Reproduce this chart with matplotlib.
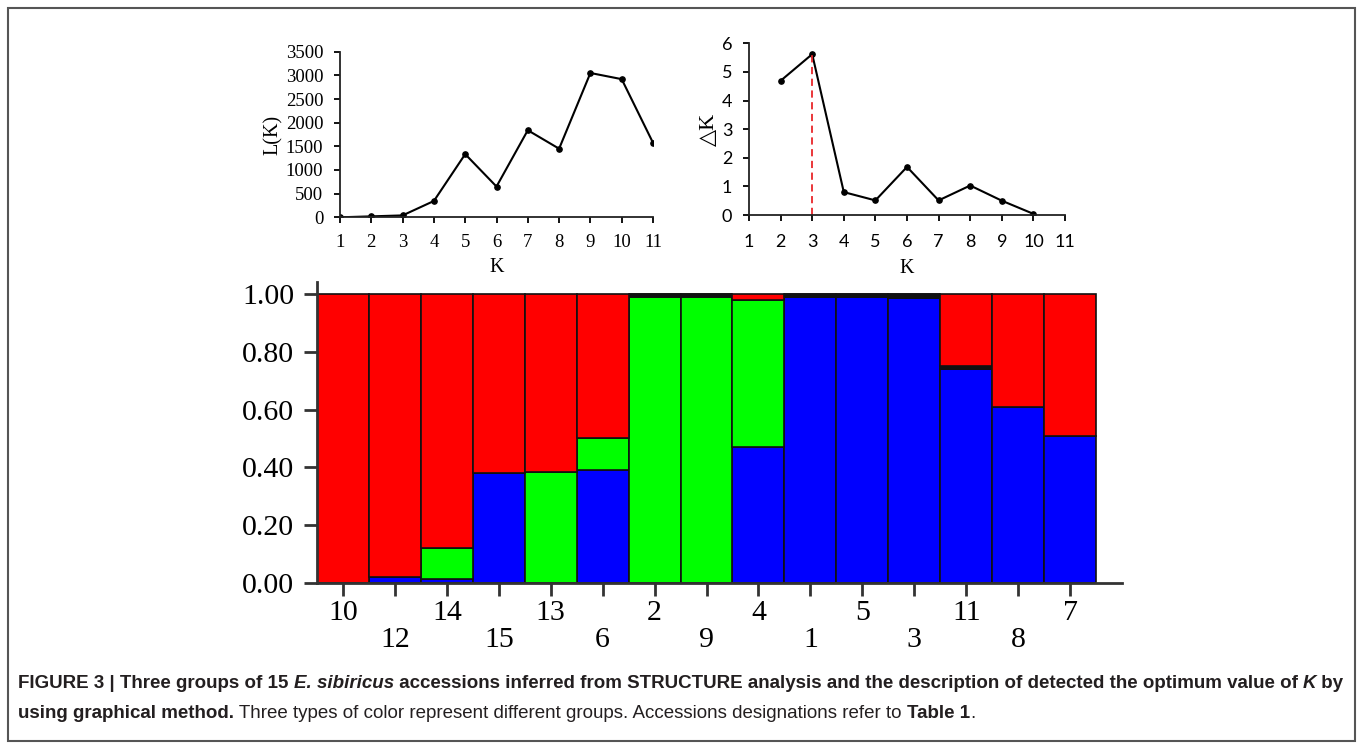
import matplotlib
matplotlib.use("Agg")
import matplotlib.pyplot as plt
import numpy as np
from matplotlib.patches import Rectangle

# 상단 그래프 데이터
k_values = [1, 2, 3, 4, 5, 6, 7, 8, 9, 10, 11]
lk_values = [0, 20, 40, 345, 1335, 650, 1840, 1450, 3050, 2920, 1575]
dk_k = [2, 3, 4, 5, 6, 7, 8, 9, 10]
dk_values = [4.69, 5.62, 0.80, 0.51, 1.68, 0.51, 1.03, 0.50, 0.04]
best_k = 3

# STRUCTURE 막대 데이터 (아래부터 blue, green, red)
accessions = ['10', '12', '14', '15', '13', '6', '2', '9', '4', '1', '5', '3', '11', '8', '7']
blue = [0, 0.02, 0.015, 0.38, 0, 0.39, 0, 0, 0.47, 0.99, 0.99, 0.985, 0.74, 0.61, 0.51]
green = [0, 0, 0.105, 0, 0.385, 0.11, 0.99, 0.99, 0.51, 0, 0, 0, 0, 0, 0]
red = [1.0, 0.98, 0.88, 0.62, 0.615, 0.50, 0, 0, 0.02, 0, 0, 0, 0.25, 0.39, 0.49]

W, H = 1357, 744
fig = plt.figure(figsize=(W / 100, H / 100), dpi=100)

def px_axes(left, top, right, bottom):
    return fig.add_axes([left / W, 1 - bottom / H, (right - left) / W, (bottom - top) / H])

serif = 'Liberation Serif'
axis_col = '#222222'

# L(K) 그래프
ax1 = px_axes(340, 51.7, 653, 217.3)
ax1.plot(k_values, lk_values, color='black', lw=1.5, marker='o', ms=3.8)
ax1.set_xlim(1, 11)
ax1.set_ylim(0, 3500)
ax1.set_xticks(k_values)
ax1.set_yticks(range(0, 3501, 500))
for s in ['top', 'right']:
    ax1.spines[s].set_visible(False)
for s in ['left', 'bottom']:
    ax1.spines[s].set_linewidth(1.3)
    ax1.spines[s].set_color(axis_col)
ax1.tick_params(direction='out', length=4, width=1.3, labelsize=13.5)
ax1.tick_params(axis='x', pad=8)
ax1.tick_params(axis='y', pad=8)
for lab in ax1.get_xticklabels() + ax1.get_yticklabels():
    lab.set_fontfamily(serif)
ax1.set_xlabel('K', fontfamily=serif, fontsize=14.5, labelpad=5)
ax1.set_ylabel('L(K)', fontfamily=serif, fontsize=14.5, labelpad=2)

# delta K 그래프
ax2 = px_axes(749, 43.3, 1065, 215)
ax2.plot(dk_k, dk_values, color='black', lw=1.5, marker='o', ms=3.8)
ax2.plot([best_k, best_k], [0, dk_values[dk_k.index(best_k)]], color='#e8262a',
         lw=1.3, ls=(0, (4, 2.5)))
ax2.set_xlim(1, 11)
ax2.set_ylim(0, 6)
ax2.set_xticks(k_values)
ax2.set_yticks(range(0, 7))
for s in ['top', 'right']:
    ax2.spines[s].set_visible(False)
for s in ['left', 'bottom']:
    ax2.spines[s].set_linewidth(1.3)
    ax2.spines[s].set_color(axis_col)
ax2.tick_params(direction='out', length=4, width=1.3, labelsize=13)
ax2.tick_params(axis='x', pad=10)
ax2.tick_params(axis='y', pad=8)
for lab in ax2.get_xticklabels() + ax2.get_yticklabels():
    lab.set_fontfamily('Lato')
ax2.set_xlabel('K', fontfamily=serif, fontsize=14.5, labelpad=6)
ax2.set_ylabel('\u25b3K', fontfamily=[serif, 'DejaVu Sans'], fontsize=16, labelpad=2)

# STRUCTURE 막대 그래프
ax3 = px_axes(317, 282.4, 1122, 583)
x = np.arange(len(accessions))
blue_a, green_a, red_a = np.array(blue), np.array(green), np.array(red)
other = np.clip(1 - blue_a - green_a - red_a, 0, None)
kw = dict(width=1.0, edgecolor='#111111', linewidth=1.2)
ax3.bar(x, blue_a, color='#0000ff', **kw)
ax3.bar(x, green_a, bottom=blue_a, color='#00ff00', **kw)
ax3.bar(x, other, bottom=blue_a + green_a, color='#111111', **kw)
ax3.bar(x, red_a, bottom=blue_a + green_a + other, color='#ff0000', **kw)
ax3.set_xlim(-0.5, 15.0)
ax3.set_ylim(0, 1.04)
ax3.set_yticks(np.arange(0, 1.01, 0.2))
ax3.set_yticklabels([f'{v:.2f}' for v in np.arange(0, 1.01, 0.2)])
ax3.set_xticks(x[::2])
ax3.set_xticklabels(accessions[::2])
ax3.set_xticks(x[1::2], minor=True)
ax3.set_xticklabels(accessions[1::2], minor=True)
for s in ['top', 'right']:
    ax3.spines[s].set_visible(False)
for s in ['left', 'bottom']:
    ax3.spines[s].set_linewidth(2)
    ax3.spines[s].set_color('#333333')
ax3.tick_params(axis='y', direction='out', length=9.5, width=2, labelsize=21.5, pad=7, color='#333333')
ax3.tick_params(axis='x', which='major', direction='out', length=9.5, width=2, labelsize=21.5, pad=3, color='#333333')
ax3.tick_params(axis='x', which='minor', direction='out', length=9.5, width=2, labelsize=21.5, pad=22, color='#333333')
for lab in ax3.get_xticklabels() + ax3.get_xticklabels(minor=True) + ax3.get_yticklabels():
    lab.set_fontfamily(serif)

# 그림 테두리
fig.add_artist(Rectangle((8 / W, 3 / H), (1355 - 8) / W, (744 - 8 - 3) / H,
                         transform=fig.transFigure, fill=False,
                         edgecolor='#555555', linewidth=1.5))

# 캡션 (여러 조각을 이어붙임)
cap_font = 'Liberation Sans'
cap_size = 13.5
renderer = fig.canvas.get_renderer()

def put_line(parts, x0, y0):
    xpos = x0
    for text, weight, style in parts:
        t = fig.text(xpos / W, 1 - y0 / H, text, fontfamily=cap_font, fontsize=cap_size,
                     fontweight=weight, fontstyle=style, color='#231f20', va='center', ha='left')
        xpos += t.get_window_extent(renderer).width

line1 = [
    ('FIGURE 3 | Three groups of 15 ', 'bold', 'normal'),
    ('E. sibiricus', 'bold', 'italic'),
    (' accessions inferred from STRUCTURE analysis and the description of detected the optimum value of ', 'bold', 'normal'),
    ('K', 'bold', 'italic'),
    (' by', 'bold', 'normal'),
]
line2 = [
    ('using graphical method.', 'bold', 'normal'),
    (' Three types of color represent different groups. Accessions designations refer to ', 'normal', 'normal'),
    ('Table 1', 'bold', 'normal'),
    ('.', 'normal', 'normal'),
]
put_line(line1, 18, 684)
put_line(line2, 18, 714)

fig.savefig('out.png', dpi=100)
